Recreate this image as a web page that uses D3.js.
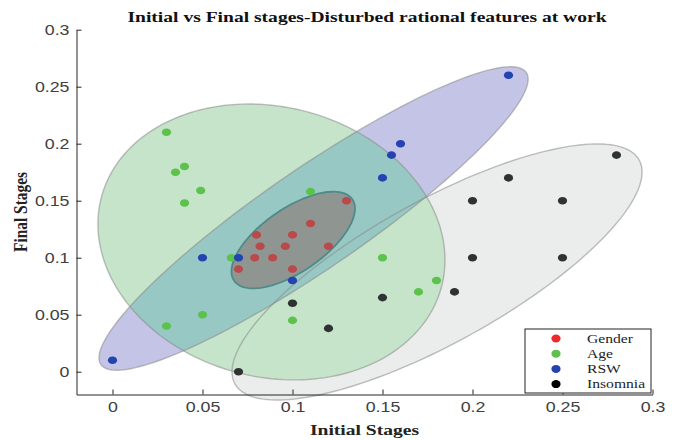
<!DOCTYPE html>
<html><head><meta charset="utf-8">
<script src="https://cdn.jsdelivr.net/npm/d3@7/dist/d3.min.js"></script>
<style>body{margin:0;background:#fff} svg{display:block}</style>
</head><body>
<svg id="c" width="679" height="440"></svg>
<script>
// ---- data ----
const xTicks = [0, 0.05, 0.1, 0.15, 0.2, 0.25, 0.3];
const yTicks = [0, 0.05, 0.1, 0.15, 0.2, 0.25, 0.3];
const seriesNames = ["Gender", "Age", "RSW", "Insomnia"];

const genderX = [0.13, 0.11, 0.08, 0.10, 0.082, 0.096, 0.12, 0.079, 0.089, 0.07, 0.10];
const genderY = [0.15, 0.13, 0.12, 0.12, 0.11, 0.11, 0.11, 0.10, 0.10, 0.09, 0.09];

const ageX = [0.03, 0.04, 0.035, 0.049, 0.04, 0.066, 0.05, 0.03, 0.11, 0.15, 0.10, 0.17, 0.18];
const ageY = [0.21, 0.18, 0.175, 0.159, 0.148, 0.10, 0.05, 0.04, 0.158, 0.10, 0.045, 0.07, 0.08];

const rswX = [0.0, 0.05, 0.07, 0.10, 0.15, 0.155, 0.16, 0.22];
const rswY = [0.01, 0.10, 0.10, 0.08, 0.17, 0.19, 0.20, 0.26];

const insomniaX = [0.07, 0.10, 0.12, 0.15, 0.19, 0.20, 0.20, 0.22, 0.25, 0.25, 0.28];
const insomniaY = [0.0, 0.06, 0.038, 0.065, 0.07, 0.10, 0.15, 0.17, 0.15, 0.10, 0.19];

// ellipse (spread) parameters per series, in data units: Gender, Age, RSW, Insomnia
const ellipseCenterX = [0.1004, 0.0883, 0.1117, 0.1803];
const ellipseCenterY = [0.1155, 0.1138, 0.1344, 0.0875];
const ellipseSpreadX = [0.0343, 0.0964, 0.1192, 0.1139];
const ellipseSpreadY = [0.0424, 0.1210, 0.1331, 0.1123];
const ellipseCorr    = [0.65, -0.13, 0.918, 0.78];

// ---- styles ----
const STRETCH = 1.27;
const pointColors  = ["#b84a4c", "#5cc24c", "#2443b0", "#2e3232"];
const legendColors = ["#f0282a", "#5cc24c", "#2443b0", "#000000"];
const serif = "'Liberation Serif','Times New Roman',serif";
const sans = "'Liberation Sans',Arial,sans-serif";

const svg = d3.select("#c");
const x = d3.scaleLinear().domain([-0.02, 0.3]).range([76.5, 652.5]);
const y = d3.scaleLinear().domain([-0.02, 0.3]).range([394.5, 29.7]);

function ellipsePath(i) {
  const r = ellipseCorr[i], s = Math.sqrt(1 - r * r);
  const pts = d3.range(0, 360, 2).map(deg => {
    const t = deg * Math.PI / 180;
    const dx = ellipseSpreadX[i] * Math.cos(t);
    const dy = ellipseSpreadY[i] * (r * Math.cos(t) + s * Math.sin(t));
    return [x(ellipseCenterX[i] + dx), y(ellipseCenterY[i] + dy)];
  });
  return d3.line().curve(d3.curveLinearClosed)(pts);
}

// clip for overlap of Age and RSW
svg.append("defs").append("clipPath").attr("id", "rswClip")
  .append("path").attr("d", ellipsePath(2));

const g = svg.append("g");
// fills
g.append("path").attr("d", ellipsePath(3)).attr("fill", "#ebecec");
g.append("path").attr("d", ellipsePath(1)).attr("fill", "#c5e4c9");
g.append("path").attr("d", ellipsePath(2)).attr("fill", "#c4c4e6");
g.append("path").attr("d", ellipsePath(1)).attr("fill", "#97c8c3").attr("clip-path", "url(#rswClip)");
// outlines
[3, 1, 2].forEach(i => {
  g.append("path").attr("d", ellipsePath(i)).attr("fill", "none")
    .attr("stroke", "#8a8a8a").attr("stroke-opacity", 0.55).attr("stroke-width", 1.4);
});
// gender ellipse
g.append("path").attr("d", ellipsePath(0)).attr("fill", "#8f9692")
  .attr("stroke", "#4e8b88").attr("stroke-width", 1.8);

// points
const series = [[genderX, genderY], [ageX, ageY], [rswX, rswY], [insomniaX, insomniaY]];
series.forEach(([xs, ys], si) => {
  g.selectAll(null).data(xs.map((v, k) => [v, ys[k]])).enter().append("ellipse")
    .attr("cx", d => x(d[0])).attr("cy", d => y(d[1]))
    .attr("rx", 4.6).attr("ry", 3.8).attr("fill", pointColors[si]);
});

// axes
const xAxis = d3.axisBottom(x).tickValues(xTicks).tickFormat(d => String(d))
  .tickSize(-5).tickSizeOuter(0).tickPadding(8);
const yAxis = d3.axisLeft(y).tickValues(yTicks).tickFormat(d => String(d))
  .tickSize(-5).tickSizeOuter(0).tickPadding(7);

const gx = svg.append("g").attr("transform", "translate(0,394.5)").call(xAxis);
const gy = svg.append("g").attr("transform", "translate(76.5,0)").call(yAxis);
[gx, gy].forEach(a => {
  a.select(".domain").attr("stroke", "#262626").attr("stroke-width", 1);
  a.selectAll(".tick line").attr("stroke", "#262626");
  a.selectAll(".tick text").attr("font-family", sans).attr("font-size", 14).attr("fill", "#404040");
});
gx.selectAll(".tick text").attr("transform", `scale(${STRETCH},1)`);
gy.selectAll(".tick text").attr("x", -7 / STRETCH).attr("transform", `scale(${STRETCH},1)`);

// titles
svg.append("text").attr("transform", `translate(367,22) scale(${STRETCH},1)`)
  .attr("text-anchor", "middle").attr("font-family", serif).attr("font-weight", "bold")
  .attr("font-size", 15.4).attr("fill", "#111").text("Initial vs Final stages-Disturbed rational features at work");
svg.append("text").attr("transform", `translate(364.5,435) scale(${STRETCH},1)`)
  .attr("text-anchor", "middle").attr("font-family", serif).attr("font-weight", "bold")
  .attr("font-size", 15.4).attr("fill", "#222").text("Initial Stages");
svg.append("text").attr("transform", `translate(20,212) scale(${STRETCH},1) rotate(-90)`)
  .attr("text-anchor", "middle").attr("dy", "0.35em").attr("font-family", serif).attr("font-weight", "bold")
  .attr("font-size", 15.4).attr("fill", "#222").text("Final Stages");

// legend
const lg = svg.append("g").attr("transform", "translate(525,329)");
lg.append("rect").attr("x", 0).attr("y", 0).attr("width", 126).attr("height", 64)
  .attr("fill", "#fff").attr("stroke", "#222").attr("stroke-width", 1);
seriesNames.forEach((name, i) => {
  const yy = 9.5 + i * 15.2;
  lg.append("ellipse").attr("cx", 31).attr("cy", yy).attr("rx", 4.6).attr("ry", 4).attr("fill", legendColors[i]);
  lg.append("text").attr("transform", `translate(62,${yy + 4}) scale(${STRETCH},1)`)
    .attr("font-family", serif).attr("font-size", 12.3).attr("fill", "#222").text(name);
});
</script>
</body></html>
